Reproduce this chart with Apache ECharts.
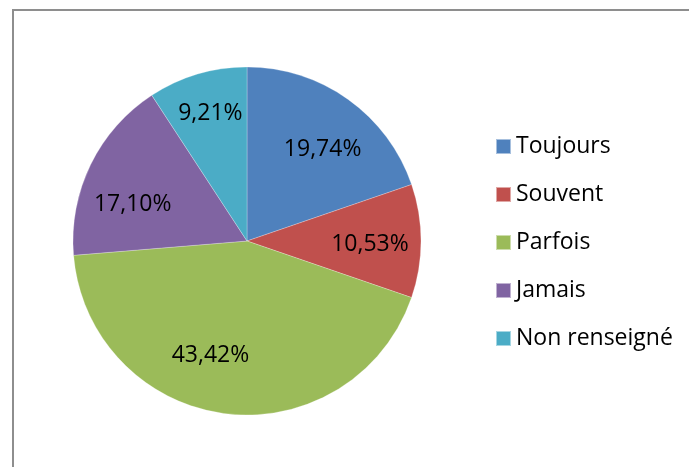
<!DOCTYPE html>
<html>
<head>
<meta charset="utf-8">
<script src="https://cdn.jsdelivr.net/npm/echarts@6/dist/echarts.min.js"></script>
<style>
  html, body { margin: 0; padding: 0; background: #fff; }
  #main { width: 689px; height: 467px; position: relative; }
  .frame {
    position: absolute; left: 12px; top: 9px; right: -5px; bottom: -5px;
    border-left: 2px solid #8e8e8e; border-top: 2px solid #8e8e8e;
    pointer-events: none; z-index: 5;
  }
</style>
</head>
<body>
<div style="position:relative;width:689px;height:467px;overflow:hidden;">
  <div id="main"></div>
  <div class="frame"></div>
</div>
<script>
// categories and shares (%)
var categories = ['Toujours', 'Souvent', 'Parfois', 'Jamais', 'Non renseigné'];
var shares = [19.74, 10.53, 43.42, 17.10, 9.21];
var colors = ['#4F81BD', '#C0504D', '#9BBB59', '#8064A2', '#4BACC6'];
// small label nudges (px) to mimic the "best fit" placement of the original
var labelNudge = [[3, 10], [-2, 3], [-21, -10], [-2, 18], [-1, -8]];

var pieData = categories.map(function (name, i) {
    return { name: name, value: shares[i] };
});

function fmt(v) {
    return v.toFixed(2).replace('.', ',') + '%';
}

var chart = echarts.init(document.getElementById('main'));
chart.setOption({
    color: colors,
    animation: false,
    legend: {
        orient: 'vertical',
        left: 495,
        top: 135,
        padding: 0,
        itemWidth: 15,
        itemHeight: 15,
        itemGap: 25,
        icon: 'rect',
        textStyle: {
            fontFamily: 'Open Sans',
            fontSize: 23,
            lineHeight: 23,
            color: '#000'
        },
        data: categories
    },
    series: [
        {
            type: 'pie',
            center: [247, 241],
            radius: [0, 174],
            startAngle: 90,
            clockwise: true,
            itemStyle: { borderColor: 'rgba(255,255,255,0.5)', borderWidth: 0.5 },
            label: { show: false },
            labelLine: { show: false },
            emphasis: { disabled: true },
            data: pieData
        },
        {
            // invisible ring used only to place the percentage labels
            type: 'pie',
            center: [247, 241],
            radius: [70, 174],
            startAngle: 90,
            clockwise: true,
            silent: true,
            legendHoverLink: false,
            itemStyle: { color: 'rgba(0,0,0,0)' },
            label: {
                show: true,
                position: 'inside',
                fontFamily: 'Open Sans',
                fontSize: 23,
                color: '#000',
                formatter: function (p) { return fmt(p.value); }
            },
            labelLine: { show: false },
            emphasis: { disabled: true },
            data: pieData.map(function (d, i) {
                return { name: d.name + ' ', value: d.value, label: { offset: labelNudge[i] } };
            })
        }
    ]
});
</script>
</body>
</html>
